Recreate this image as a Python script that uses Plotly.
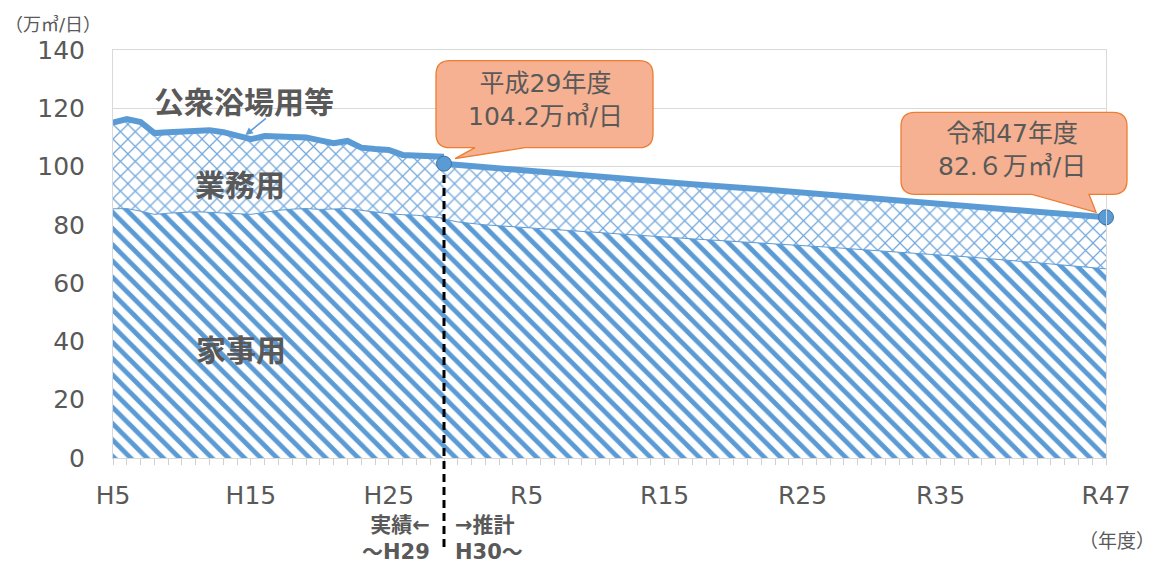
import plotly.graph_objects as go

# -----------------------------
# Data (万m3/日)
# -----------------------------
actual_years = list(range(1993, 2018))  # H5 .. H29
actual_domestic = [85.5, 85.6, 84.7, 83.6, 84.0, 84.3, 84.5, 84.3, 84.0, 83.8,
                   83.6, 84.3, 85.0, 85.4, 85.6, 85.3, 85.5, 85.6, 85.0, 84.4,
                   83.8, 83.5, 83.3, 82.8, 82.3]
actual_total = [115.1, 116.3, 115.3, 111.5, 111.8, 112.0, 112.0, 112.5, 111.8, 110.8,
                109.4, 110.5, 110.2, 110.2, 110.0, 109.0, 108.0, 108.8, 106.5, 106.0,
                105.7, 104.0, 103.7, 103.5, 103.4]

forecast_years = [2017, 2018, 2020, 2025, 2030, 2035, 2040, 2045, 2050, 2055, 2060, 2065]
forecast_domestic = [82.0, 81.0, 80.0, 78.5, 76.8, 75.2, 73.8, 72.3, 70.6, 69.0, 67.0, 64.9]
forecast_total = [101.0, 100.6, 99.6, 97.6, 95.6, 93.9, 92.2, 90.4, 88.2, 86.3, 84.5, 82.6]

tick_years = [1993, 2003, 2013, 2023, 2033, 2043, 2053, 2065]
tick_labels = ["H5", "H15", "H25", "R5", "R15", "R25", "R35", "R47"]

callout_years = [forecast_years[0], forecast_years[-1]]
callout_values = [forecast_total[0], forecast_total[-1]]
callout_texts = ["平成29年度<br>104.2万㎥/日", "令和47年度<br>82.６万㎥/日"]

# -----------------------------
# Layout constants
# (the page body adds an 8px offset, so margins are shifted by that)
# -----------------------------
W, H = 1162, 564
M_L, M_R, M_T, M_B = 105, 64, 42, 114
PLOT_H = H - M_T - M_B
PLOT_W = W - M_L - M_R
X0, X1 = actual_years[0], forecast_years[-1]
Y_MAX = 140

BLUE = "#5b9bd5"
GREY = "#595959"
JP = "DejaVu Sans, Noto Sans CJK JP"


def xfrac(year):
    return (year - X0) / (X1 - X0)


def yfrac(v):
    return v / Y_MAX


def px_below(px):
    # paper y for a point px pixels below the plot bottom
    return -px / PLOT_H


stripe = dict(shape="\\", size=11.5, solidity=0.42, fgcolor=BLUE, bgcolor="white", fillmode="replace")
cross = dict(shape="x", size=10.5, solidity=0.22, fgcolor="#72a7dc", bgcolor="white", fillmode="replace")

fig = go.Figure()

# actual
fig.add_trace(go.Scatter(x=actual_years, y=actual_domestic, mode="lines", fill="tozeroy",
                         fillpattern=stripe, line=dict(color=BLUE, width=1)))
fig.add_trace(go.Scatter(x=actual_years, y=actual_total, mode="lines", fill="tonexty",
                         fillpattern=cross, line=dict(color=BLUE, width=6)))
# forecast
fig.add_trace(go.Scatter(x=forecast_years, y=forecast_domestic, mode="lines", fill="tozeroy",
                         fillpattern=stripe, line=dict(color=BLUE, width=1)))
fig.add_trace(go.Scatter(x=forecast_years, y=forecast_total, mode="lines", fill="tonexty",
                         fillpattern=cross, line=dict(color=BLUE, width=6)))

# callout balloons (pixel offsets from the marked point)
balloons = [
    # left, right, top, bottom, tail-left, tail-right, tip
    (-8, 209, 103, 16, 31, 81, (11, 5)),
    (-205, 21, 105, 23, -74, -17, (-10, 5)),
]
shapes = []
r = 14
for (yr, v), (L, R, T, B, tl, tr, tip) in zip(zip(callout_years, callout_values), balloons):
    path = (f"M{L + r},{T} L{R - r},{T} Q{R},{T} {R},{T - r} L{R},{B + r} Q{R},{B} {R - r},{B} "
            f"L{tr},{B} L{tip[0]},{tip[1]} L{tl},{B} L{L + r},{B} Q{L},{B} {L},{B + r} "
            f"L{L},{T - r} Q{L},{T} {L + r},{T} Z")
    shapes.append(dict(type="path", xref="paper", yref="paper", xsizemode="pixel", ysizemode="pixel",
                       xanchor=xfrac(yr), yanchor=yfrac(v), path=path,
                       fillcolor="#f5b191", line=dict(color="#ed7d31", width=1.3)))

# actual / forecast divider
shapes.append(dict(type="line", xref="paper", yref="paper",
                   x0=xfrac(callout_years[0]), x1=xfrac(callout_years[0]),
                   y0=px_below(89), y1=yfrac(callout_values[0]) - 10 / PLOT_H,
                   line=dict(color="black", width=3, dash="8px,5px")))

fig.add_trace(go.Scatter(x=callout_years, y=callout_values, mode="markers", cliponaxis=False,
                         marker=dict(size=15, color=BLUE, line=dict(color="#41719c", width=1))))

annotations = []
for (yr, v), txt, (dx, dy) in zip(zip(callout_years, callout_values), callout_texts, [(101, 64), (-94, 67)]):
    annotations.append(dict(x=yr, y=v, xref="x", yref="y", text=txt, showarrow=False,
                            xshift=dx, yshift=dy, font=dict(size=25, color=GREY, family=JP)))

label_font = dict(size=30, color=GREY, family="Noto Sans CJK JP")
small_bold = dict(size=21, color=GREY, family=JP)
annotations += [
    dict(x=2002.5, y=122.7, text="<b>公衆浴場用等</b>", showarrow=False, font=label_font),
    dict(x=2002.2, y=94.4, text="<b>業務用</b>", showarrow=False, font=label_font),
    dict(x=2002.3, y=37.9, text="<b>家事用</b>", showarrow=False, font=label_font),
    dict(x=2002.6, y=110.8, text="", showarrow=True, ax=22, ay=-18, arrowhead=2,
         arrowsize=1, arrowwidth=1.5, arrowcolor=BLUE),
    dict(x=xfrac(callout_years[0]), y=px_below(80), xref="paper", yref="paper",
         xanchor="right", yanchor="middle", xshift=-12,
         text="<b>実績←<br>～H29</b>", align="right", showarrow=False, font=small_bold),
    dict(x=xfrac(callout_years[0]), y=px_below(80), xref="paper", yref="paper",
         xanchor="left", yanchor="middle", xshift=9,
         text="<b>→推計<br>H30～</b>", align="left", showarrow=False, font=small_bold),
    dict(x=1 + 11 / PLOT_W, y=px_below(83), xref="paper", yref="paper",
         xanchor="center", yanchor="middle", text="（年度）", showarrow=False,
         font=dict(size=19, color=GREY, family=JP)),
    dict(x=-60 / PLOT_W, y=1 + 26 / PLOT_H, xref="paper", yref="paper",
         xanchor="center", yanchor="middle", text="（万㎥/日）", showarrow=False,
         font=dict(size=18, color=GREY, family=JP)),
]

fig.update_layout(
    width=W, height=H,
    margin=dict(l=M_L, r=M_R, t=M_T, b=M_B),
    plot_bgcolor="white", paper_bgcolor="white",
    showlegend=False, hovermode=False,
    shapes=shapes, annotations=annotations,
    font=dict(family=JP, color=GREY),
)
fig.update_xaxes(range=[X0, X1], tickvals=tick_years, ticktext=tick_labels, automargin=False,
                 tickfont=dict(size=25, color=GREY), ticks="outside", ticklen=6, tickcolor="#d0d0d0",
                 minor=dict(dtick=1, ticks="outside", ticklen=6, tickcolor="#d0d0d0"),
                 showgrid=False, showline=True, linecolor="#d9d9d9", mirror=True,
                 ticklabelstandoff=9)
fig.update_yaxes(range=[0, Y_MAX], dtick=20, tickfont=dict(size=25, color=GREY), automargin=False,
                 showgrid=True, gridcolor="#d9d9d9", showline=True, linecolor="#d9d9d9",
                 mirror=True, zeroline=False, ticklabelstandoff=22)

fig.write_html("out.html")
